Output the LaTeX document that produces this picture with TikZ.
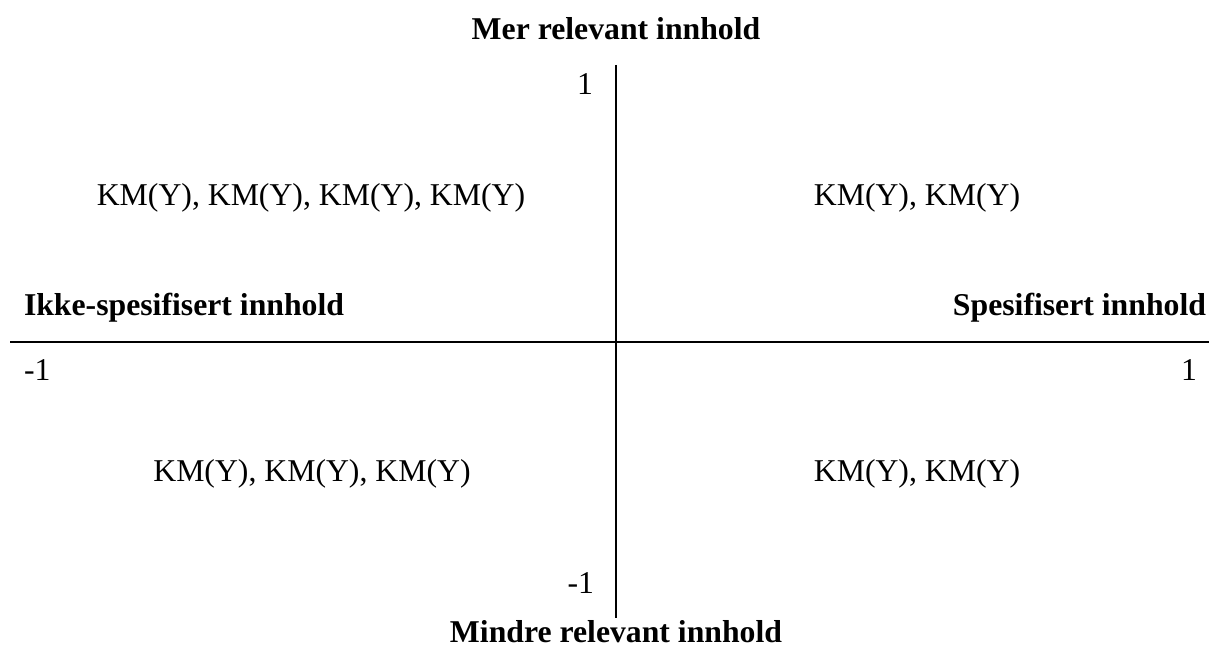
\documentclass[tikz,border=0pt]{standalone}
\usepackage{fontspec}
\setmainfont{Liberation Serif}
\begin{document}
\begin{tikzpicture}[x=0.75pt,y=-0.75pt,
  every node/.style={inner sep=0pt,outer sep=0pt,font=\fontsize{23.8}{28}\selectfont},
  axislabel/.style={font=\fontsize{23.8}{28}\selectfont\bfseries},
  axis/.style={line width=1.6pt,black},
  tick/.style={anchor=base},
  entry/.style={anchor=base}]
  \useasboundingbox (0,0) rectangle (1209,649);

  % axis end points
  \coordinate (xl) at (10,342);
  \coordinate (xr) at (1209,342);
  \coordinate (yt) at (616,65);
  \coordinate (yb) at (616,618);
  \draw[axis] (xl) -- (xr);
  \draw[axis] (yt) -- (yb);

  % axis titles
  \node[axislabel,anchor=base] (top) at (616,40) {Mer relevant innhold};
  \node[axislabel,anchor=base] (bottom) at (616,642) {Mindre relevant innhold};
  \node[axislabel,anchor=base west] (left) at (24,315) {Ikke-spesifisert innhold};
  \node[axislabel,anchor=base east] (right) at (1206,315) {Spesifisert innhold};

  % scale marks
  \node[tick,anchor=base east] (ytop) at (593,95) {1};
  \node[tick,anchor=base east] (ybot) at (594,593) {-1};
  \node[tick,anchor=base west] (xmin) at (24,380) {-1};
  \node[tick,anchor=base east] (xmax) at (1197,380) {1};

  % quadrant entries
  \node[entry] (q2) at (311,205) {KM(Y), KM(Y), KM(Y), KM(Y)};
  \node[entry] (q1) at (917,205) {KM(Y), KM(Y)};
  \node[entry] (q3) at (312,481) {KM(Y), KM(Y), KM(Y)};
  \node[entry] (q4) at (917,481) {KM(Y), KM(Y)};
\end{tikzpicture}
\end{document}
